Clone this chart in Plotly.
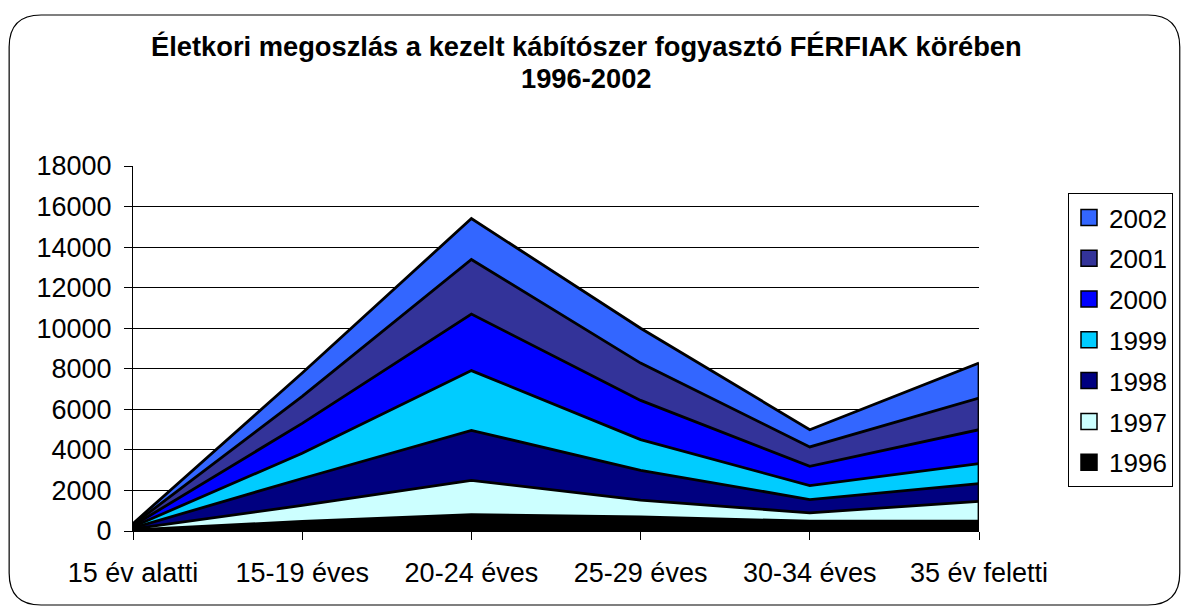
import plotly.graph_objects as go

categories = ["15 év alatti", "15-19 éves", "20-24 éves", "25-29 éves", "30-34 éves", "35 év feletti"]
years = ["1996", "1997", "1998", "1999", "2000", "2001", "2002"]
v1996 = [60, 470, 810, 700, 480, 480]
v1997 = [40, 790, 1690, 820, 415, 985]
v1998 = [50, 1330, 2460, 1475, 655, 870]
v1999 = [60, 1245, 2950, 1510, 690, 985]
v2000 = [50, 1475, 2790, 1935, 950, 1675]
v2001 = [50, 1330, 2690, 1840, 955, 1560]
v2002 = [60, 1150, 2020, 1720, 850, 1725]
series = [v1996, v1997, v1998, v1999, v2000, v2001, v2002]
colors = ["#000000", "#CCFFFF", "#000080", "#00CCFF", "#0000FF", "#333399", "#3366FF"]
y_ticks = list(range(0, 18001, 2000))
title_line1 = "Életkori megoszlás a kezelt kábítószer fogyasztó FÉRFIAK körében"
title_line2 = "1996-2002"

FONT = "Arial, 'Liberation Sans', sans-serif"
W, H = 1184, 611
L, R, T, B = 133, 204, 166, 80
PW, PH = W - L - R, H - T - B

fig = go.Figure()
for yr, vals, col in zip(years, series, colors):
    fig.add_trace(go.Scatter(
        x=categories, y=vals, name=yr, stackgroup="one", mode="lines",
        line=dict(color="black", width=2.8), fillcolor=col, showlegend=False,
        hoverinfo="x+y+name"))

# legend-only entries (square swatches), top to bottom 2002 -> 1996
for yr, col in reversed(list(zip(years, colors))):
    fig.add_trace(go.Scatter(
        x=[None], y=[None], mode="markers", name=yr, legendgroup=yr,
        marker=dict(symbol="square", size=17, color=col, line=dict(color="black", width=1.5)),
        showlegend=True))

total_last = sum(s[-1] for s in series)
fig.add_shape(type="line", xref="x", yref="y", x0=categories[-1], x1=categories[-1],
              y0=0, y1=total_last, line=dict(color="black", width=2.8))

def px(x):
    return (x - L) / PW

def py(y):
    return (H - B - y) / PH

x0, x1, y0, y1 = 9, 1181, 15, 605
r = 32
path = (f"M {px(x0 + r)},{py(y0)} L {px(x1 - r)},{py(y0)} "
        f"Q {px(x1)},{py(y0)} {px(x1)},{py(y0 + r)} "
        f"L {px(x1)},{py(y1 - r)} Q {px(x1)},{py(y1)} {px(x1 - r)},{py(y1)} "
        f"L {px(x0 + r)},{py(y1)} Q {px(x0)},{py(y1)} {px(x0)},{py(y1 - r)} "
        f"L {px(x0)},{py(y0 + r)} Q {px(x0)},{py(y0)} {px(x0 + r)},{py(y0)} Z")
fig.add_shape(type="path", xref="paper", yref="paper", path=path,
              line=dict(color="black", width=1.2), layer="below")

for txt, yc in [(title_line1, 46), (title_line2, 78)]:
    fig.add_annotation(text=f"<b>{txt}</b>", xref="paper", yref="paper",
                       x=px(587), y=py(yc), xanchor="center", yanchor="middle",
                       showarrow=False, font=dict(family=FONT, size=27.3, color="black"))

fig.update_layout(
    width=W, height=H,
    margin=dict(l=L, r=R, t=T, b=B),
    paper_bgcolor="white", plot_bgcolor="white",
    font=dict(family=FONT, color="black", size=27),
    xaxis=dict(type="category", range=[0, 5], showgrid=False, zeroline=False,
               showline=True, linecolor="black", linewidth=1,
               ticks="outside", ticklen=8, tickcolor="black",
               tickfont=dict(size=27), ticklabelstandoff=10),
    yaxis=dict(range=[0, 18000], tickvals=y_ticks, ticktext=[str(v) for v in y_ticks],
               showgrid=True, gridcolor="black", gridwidth=1,
               zeroline=False, showline=True, linecolor="black", linewidth=1,
               ticks="outside", ticklen=8, tickcolor="black",
               tickfont=dict(size=27), ticklabelstandoff=7),
    legend=dict(x=px(1068), y=py(193), xanchor="left", yanchor="top",
                bordercolor="black", borderwidth=1, bgcolor="white",
                font=dict(size=26), traceorder="grouped", tracegroupgap=4),
    showlegend=True,
)

fig.write_html("out.html", config={"displayModeBar": False},
               post_script="document.body.style.margin='0';")
